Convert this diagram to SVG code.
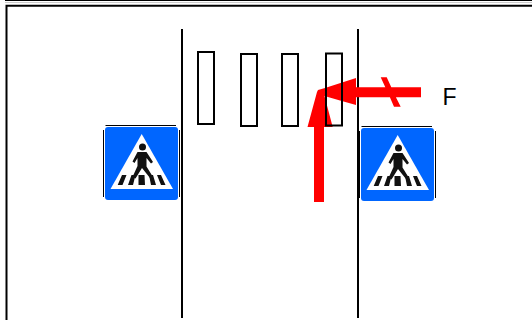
<svg xmlns="http://www.w3.org/2000/svg" width="532" height="320" viewBox="0 0 532 320">
<style>
.frame{fill:none;stroke:#000;stroke-width:2}
.road{stroke:#000;stroke-width:2;fill:none}
.bar{fill:none;stroke:#000;stroke-width:2}
.arrow{fill:#f00;stroke:none}
.f{font-family:"Liberation Sans",Arial,sans-serif;font-size:23px;fill:#000}
</style>
<defs>
<g id="sign">
<path d="M0.500-1.500H71M-1.500 3V70M74.500 3V70" stroke="#000" stroke-width="1" fill="none"/>
<rect x="0" y="0" width="73" height="73" rx="3" fill="#0066ff"/>
<path d="M36.700 7L68 62H5.500Z" fill="#fff"/>
<circle cx="37.500" cy="20" r="3.500" fill="#111"/>
<path d="M32.500 25H41.500L48 35L46 36.500L41.500 31L41.500 39.500L48 50L45 51L37 41L30.500 51.500L27.500 50L32.500 39V31L29.500 36L27.500 34.500Z" fill="#111"/>
<path d="M17 48H21.500L17.500 58H12.700ZM26.500 48H30.500L28 58H23ZM33.500 48H39.500L40 58H33.500ZM44 48H48L51 58H46ZM52 48H56L60.500 58H56Z" fill="#111"/>
</g>
</defs>
<rect width="532" height="320" fill="#fff"/>
<g id="frame">
<path d="M5 0.500H532" stroke="#000" stroke-width="1" fill="none"/>
<path d="M5 2.500H532" stroke="#ccc" stroke-width="1" fill="none"/>
<path class="frame" d="M6.500 320V5.800H532"/>
</g>
<g id="road-left"><path class="road" d="M182 29V318"/></g>
<g id="road-right"><path class="road" d="M358 29V318"/></g>
<g id="connectors">
<path class="arrow" d="M314 202V127H307.500L317 92L318 90L325 88L356 78V87.300H385.300L380.700 77.300H386.700L391.300 87.300H421V97.300H395.900L400.700 106.700H394L389.900 97.300H356V105L340 100.500L324.500 96L332.700 127H324V202Z"/>
</g>
<g id="crossing">
<rect class="bar" x="198" y="52" width="16" height="72"/>
<rect class="bar" x="241" y="54" width="16" height="72"/>
<rect class="bar" x="282" y="54" width="16" height="72"/>
<rect class="bar" x="326" y="53.500" width="16" height="72"/>
</g>
<g id="sign-left"><use href="#sign" x="105" y="127"/></g>
<g id="sign-right"><use href="#sign" x="361" y="128"/></g>
<g id="label-f"><text class="f" x="442.500" y="105">F</text></g>
</svg>
